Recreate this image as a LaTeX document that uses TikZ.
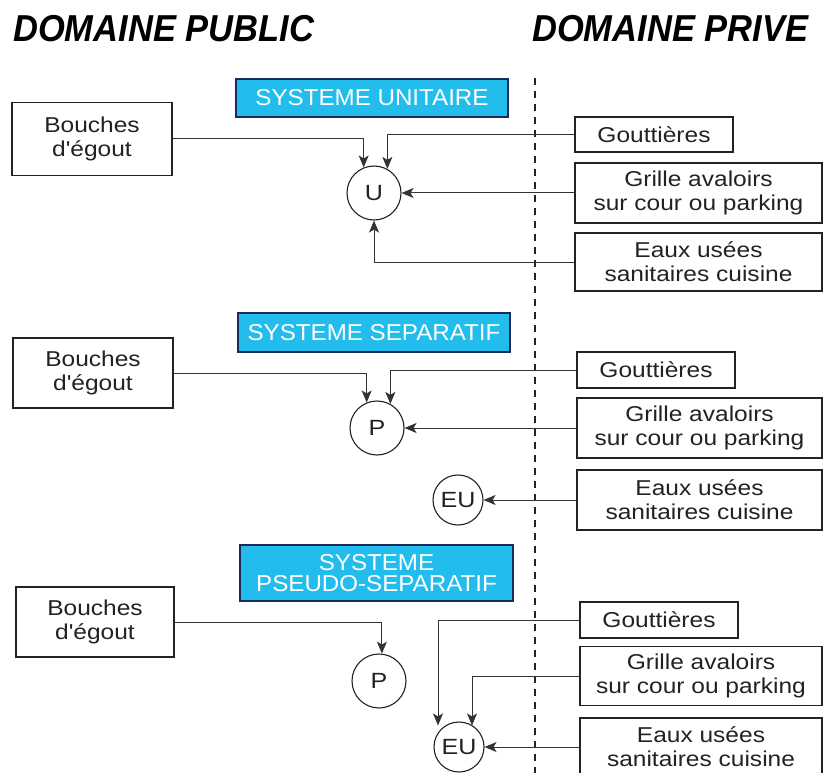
\documentclass[tikz,border=0pt]{standalone}
\usepackage{fontspec}
\setmainfont{Liberation Sans}
\newfontfamily\titlefont[FakeStretch=0.92]{Liberation Sans}
\newfontfamily\bodyfont[FakeStretch=1.14]{Liberation Sans}
\newfontfamily\sysfont[FakeStretch=1.05]{Liberation Sans}
\usetikzlibrary{arrows.meta,calc}
\definecolor{sysblue}{HTML}{22BDEC}
\definecolor{sysborder}{HTML}{1B2A5A}
\definecolor{ink}{HTML}{222222}
\definecolor{wire}{HTML}{333333}
\begin{document}
\begin{tikzpicture}[x=1pt,y=-1pt,
  title/.style={anchor=base west,inner sep=0pt,text=black,font=\titlefont\fontsize{37.5}{40}\selectfont\bfseries\itshape},
  srcbox/.style={draw=ink,line width=1.1pt,inner sep=0pt,align=center,text=ink,font=\bodyfont\fontsize{21.5}{24}\selectfont},
  sysbox/.style={draw=sysborder,fill=sysblue,line width=1.6pt,inner sep=0pt,align=center,text=white,font=\sysfont\fontsize{23}{21}\selectfont},
  hub/.style={circle,draw=ink,line width=1.1pt,inner sep=0pt,minimum size=54pt,text=ink,font=\bodyfont\fontsize{22}{22}\selectfont},
  smallhub/.style={hub,minimum size=50pt},
  wire/.style={draw=wire,line width=1pt,-{Stealth[length=12pt,width=10pt,inset=3pt]}},
  divider/.style={draw=ink,line width=1.3pt,dash pattern=on 7pt off 6pt}
]
\useasboundingbox (0,0) rectangle (825,773);
\clip (0,0) rectangle (825,773);
\fill[white] (0,0) rectangle (825,773);

% titles
\node[title] (tpub) at (13,42) {DOMAINE PUBLIC};
\node[title] (tpriv) at (532,42) {DOMAINE PRIVE};

% divider
\draw[divider] (535,78) -- (535,780);

% ---------- Systeme unitaire ----------
\node[sysbox,minimum width=272pt,minimum height=38pt] (sys1) at (372,98) {SYSTEME UNITAIRE};
\node[srcbox,minimum width=160pt,minimum height=73pt] (bu1) at (92,139) {Bouches\\d'égout};
\node[srcbox,minimum width=158pt,minimum height=35pt] (go1) at (654,134.5) {Gouttières};
\node[srcbox,minimum width=247pt,minimum height=60pt] (gr1) at (698.5,193) {Grille avaloirs\\sur cour ou parking};
\node[srcbox,minimum width=247pt,minimum height=58pt] (eu1) at (698.5,262) {Eaux usées\\sanitaires cuisine};
\node[hub] (U) at (374,193) {U};
\draw[wire] (bu1.east) -| (U.112);
\draw[wire] (go1.west) -| (U.61);
\draw[wire] (gr1.west) -- (U.east);
\draw[wire] (eu1.west) -| (U.south);

% ---------- Systeme separatif ----------
\node[sysbox,minimum width=272pt,minimum height=39pt] (sys2) at (374,332.5) {SYSTEME SEPARATIF};
\node[srcbox,minimum width=160pt,minimum height=70pt] (bu2) at (93,373) {Bouches\\d'égout};
\node[srcbox,minimum width=158pt,minimum height=36pt] (go2) at (656,370) {Gouttières};
\node[srcbox,minimum width=245pt,minimum height=60pt] (gr2) at (699.5,428) {Grille avaloirs\\sur cour ou parking};
\node[srcbox,minimum width=245pt,minimum height=60pt] (eu2) at (699.5,500) {Eaux usées\\sanitaires cuisine};
\node[hub] (P2) at (377,428) {P};
\node[smallhub] (EU2) at (458,500) {EU};
\draw[wire] (bu2.east) -| (P2.112);
\draw[wire] (go2.west) -| (P2.61);
\draw[wire] (gr2.west) -- (P2.east);
\draw[wire] (eu2.west) -- (EU2.east);

% ---------- Systeme pseudo-separatif ----------
\node[sysbox,minimum width=273pt,minimum height=56pt] (sys3) at (376.5,573) {SYSTEME\\PSEUDO-SEPARATIF};
\node[srcbox,minimum width=158pt,minimum height=70pt] (bu3) at (95,622) {Bouches\\d'égout};
\node[srcbox,minimum width=158pt,minimum height=36pt] (go3) at (659,620) {Gouttières};
\node[srcbox,minimum width=242pt,minimum height=59pt] (gr3) at (701,676) {Grille avaloirs\\sur cour ou parking};
\node[srcbox,minimum width=242pt,minimum height=58pt] (eu3) at (701,747) {Eaux usées\\sanitaires cuisine};
\node[hub] (P3) at (379,681) {P};
\node[smallhub] (EU3) at (459,747) {EU};
\draw[wire] (bu3.east) -| (P3.84);
\draw[wire] (go3.west) -| ($(EU3.north)+(-21,4)$);
\draw[wire] (gr3.west) -| ($(EU3.north)+(13,4)$);
\draw[wire] (eu3.west) -- (EU3.east);
\end{tikzpicture}
\end{document}
